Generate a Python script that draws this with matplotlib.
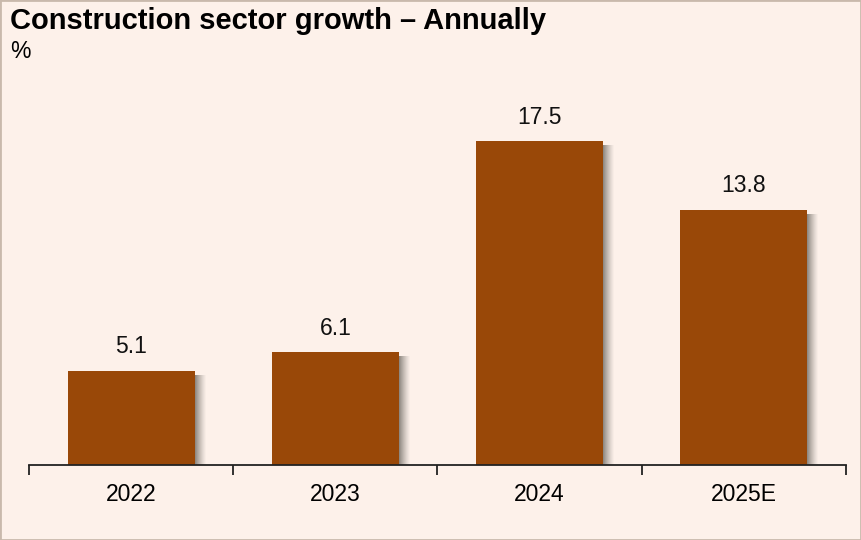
import numpy as np
import matplotlib.pyplot as plt
from matplotlib.patches import Rectangle

plt.rcParams['font.family'] = ['Liberation Sans', 'DejaVu Sans']

# Data
years = ['2022', '2023', '2024', '2025E']
growth = [5.1, 6.1, 17.5, 13.8]

bg = '#FDF1EA'
bar_color = '#994808'

fig = plt.figure(figsize=(8.61, 5.40), dpi=100, facecolor=bg)
ax = fig.add_axes([29 / 861, 75 / 540, 817 / 861, 405 / 540])
ax.set_facecolor(bg)

x = np.arange(len(years))
width = 0.622
px = 1 / 204.25            # one pixel in data units (x)
py = 1 / 18.5              # one pixel in data units (y)

# soft grey shadow on the right of each bar
for xi, v in zip(x, growth):
    right = xi + width / 2
    for k in range(11):
        a = 0.75 * (1 - k / 11) ** 1.3
        ax.add_patch(Rectangle((right + k * px, 0), px * 1.02, v - 4 * py,
                               facecolor='#6b6660', edgecolor='none', alpha=a,
                               antialiased=False, zorder=1))

ax.bar(x, growth, width=width, color=bar_color, zorder=3)

for xi, v in zip(x, growth):
    ax.annotate(f'{v:.1f}', (xi, v), xytext=(0, 12.5), textcoords='offset pixels',
                ha='center', va='bottom', fontsize=16.5, color='#111111')

ax.set_xlim(-0.5, len(years) - 0.5)
ax.set_ylim(0, 405 / 18.5)

for s in ['top', 'right', 'left']:
    ax.spines[s].set_visible(False)
ax.spines['bottom'].set_linewidth(1.3)
ax.spines['bottom'].set_color('#222222')
ax.spines['bottom'].set_zorder(5)
ax.set_yticks([])

ax.set_xticks(np.arange(len(years) + 1) - 0.5)
ax.set_xticklabels([])
ax.tick_params(axis='x', which='major', direction='out', length=7, width=1.3, color='#222222')
ax.set_xticks(x, minor=True)
ax.set_xticklabels(years, minor=True, fontsize=16.5)
ax.tick_params(axis='x', which='minor', length=0, pad=13)

fig.text(10 / 861, 1 - 21 / 540, 'Construction sector growth – Annually',
         fontsize=21, fontweight='bold', ha='left', va='center')
fig.text(10 / 861, 1 - 52 / 540, '%', fontsize=16.5, ha='left', va='center')

fig.patches.append(Rectangle((0, 0), 1, 1, transform=fig.transFigure, fill=False,
                             edgecolor='#C9B9AC', linewidth=2))

fig.savefig('out.png', dpi=100, facecolor=bg)
